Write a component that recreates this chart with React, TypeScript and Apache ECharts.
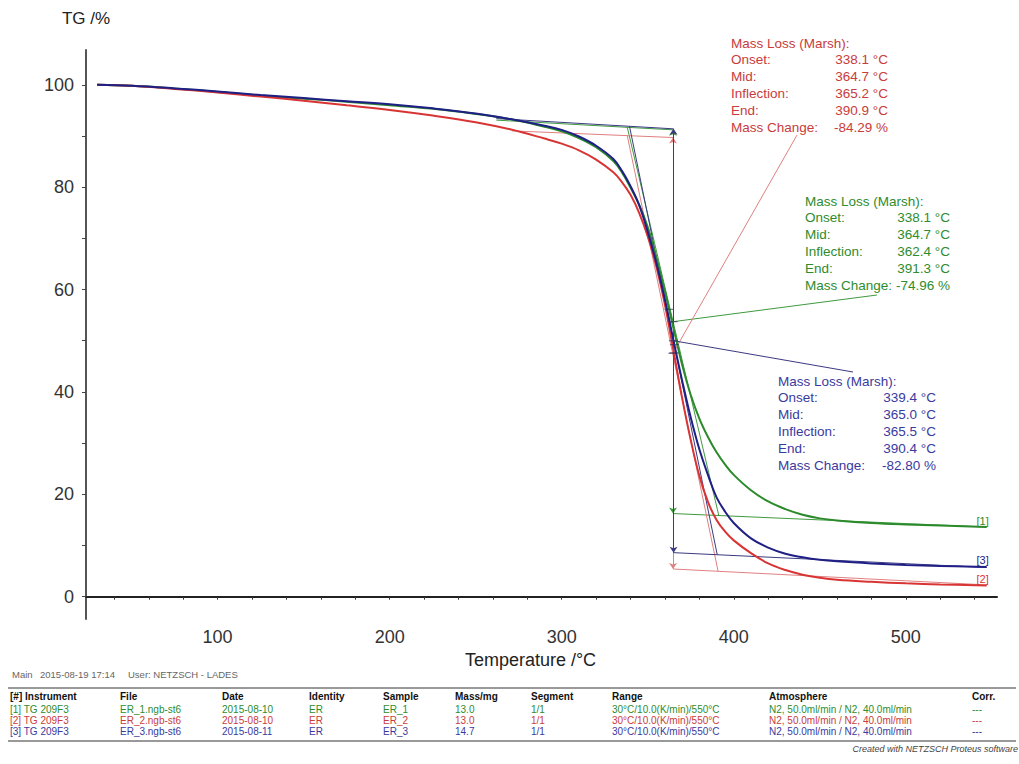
import React, { useEffect, useRef } from 'react';
import * as echarts from 'echarts';

const FONT = '"Liberation Sans", Arial, Helvetica, sans-serif';

// Temperature grid (°C) shared by the three TG runs
const temperature = [
  30, 50, 75, 100, 125, 150, 175, 200, 225, 250, 270, 290, 300, 310, 320, 330, 335, 340, 345, 350,
  355, 360, 365, 370, 375, 380, 385, 390, 395, 400, 410, 420, 430, 440, 450, 460, 480, 500, 520, 547,
];
// Residual mass in % for ER_1 [1], ER_2 [2] and ER_3 [3]
const tgER1 = [
  100, 99.8, 99.3, 98.6, 97.9, 97.3, 96.7, 96.0, 95.3, 94.3, 93.3, 91.8, 90.9, 89.6, 87.8, 85.1, 82.9, 79.9, 76.6, 72.2,
  66.3, 59.6, 52.4, 45.3, 39.4, 34.8, 31.2, 28.2, 25.8, 23.8, 20.8, 18.6, 17.1, 16.0, 15.3, 14.9, 14.4, 14.1, 13.9, 13.6,
];
const tgER2 = [
  100, 99.8, 99.2, 98.5, 97.7, 96.9, 96.0, 95.1, 94.0, 92.7, 91.3, 89.5, 88.5, 87.2, 85.4, 82.9, 81.0, 78.5, 75.0, 70.4,
  64.5, 57.0, 48.0, 38.8, 30.6, 23.6, 18.5, 15.0, 12.7, 11.0, 8.5, 6.5, 5.2, 4.3, 3.7, 3.3, 2.9, 2.6, 2.4, 2.2,
];
const tgER3 = [
  100, 99.8, 99.3, 98.7, 98.0, 97.4, 96.8, 96.2, 95.4, 94.4, 93.3, 92.0, 91.2, 89.9, 88.1, 85.5, 83.2, 80.2, 76.5, 71.3,
  65.2, 58.0, 50.0, 42.2, 35.0, 28.8, 23.8, 19.4, 16.6, 14.4, 11.4, 9.6, 8.4, 7.7, 7.2, 6.9, 6.5, 6.2, 6.0, 5.8,
];
const curves = [tgER1, tgER2, tgER3];

const curveTags = ['[1]', '[2]', '[3]'];
const curveColors = ['#2b8a2b', '#d93434', '#1f1f86'];
const constructionColors = ['#3f9a3f', '#e08080', '#3a3a82'];
const textColors = ['#2e8c2e', '#c83c3c', '#3a3a9e'];

// Marsh evaluation of the mass-loss step
const onsetT = [338.1, 338.1, 339.4];
const midT = [364.7, 364.7, 365.0];
const inflectionT = [362.4, 365.2, 365.5];
const endT = [391.3, 390.9, 390.4];
const massChange = [-74.96, -84.29, -82.8];

// Baseline before the step: start point and level at the mid temperature
const baselineStartT = [262, 271, 262];
const baselineStartTG = [93.1, 91.0, 93.4];
const baselineMidTG = [91.2, 89.7, 91.4];
// Baseline after the step, level reached at the last temperature
const finalT = 547;
const finalLineTG = [13.6, 2.3, 5.7];

// Axis ticks and labels
const xTickValues = [40, 60, 80, 100, 120, 140, 160, 180, 200, 220, 240, 260, 280, 300, 320, 340, 360, 380, 400, 420, 440, 460, 480, 500, 520, 540];
const xLabelValues = [100, 200, 300, 400, 500];
const yTickValues = [0, 10, 20, 30, 40, 50, 60, 70, 80, 90, 100];
const yLabelValues = [0, 20, 40, 60, 80, 100];

// Measurement table
const tableHeader = ['[#] Instrument', 'File', 'Date', 'Identity', 'Sample', 'Mass/mg', 'Segment', 'Range', 'Atmosphere', 'Corr.'];
const tableRows = [
  ['[1] TG 209F3', 'ER_1.ngb-st6', '2015-08-10', 'ER', 'ER_1', '13.0', '1/1', '30°C/10.0(K/min)/550°C', 'N2, 50.0ml/min / N2, 40.0ml/min', '---'],
  ['[2] TG 209F3', 'ER_2.ngb-st6', '2015-08-10', 'ER', 'ER_2', '13.0', '1/1', '30°C/10.0(K/min)/550°C', 'N2, 50.0ml/min / N2, 40.0ml/min', '---'],
  ['[3] TG 209F3', 'ER_3.ngb-st6', '2015-08-11', 'ER', 'ER_3', '14.7', '1/1', '30°C/10.0(K/min)/550°C', 'N2, 50.0ml/min / N2, 40.0ml/min', '---'],
];
const tableColumnX = [10, 120, 222, 309, 383, 455, 531, 612, 769, 972];
const headerParts = ['Main', '2015-08-19 17:14', 'User: NETZSCH - LADES'];
const headerPartX = [12, 40, 128];

// Result boxes: text placement in pixels, order matches the curves
const boxLeft = [805, 731, 778];
const boxValueRight = [950, 888, 936];
const boxTop = [201, 43, 381];
const leaderAnchor = [[877, 295], [797, 135], [853, 372]];

function interp(xs: number[], ys: number[], x: number): number {
  for (let k = 0; k < xs.length - 1; k++) {
    if (x >= xs[k] && x <= xs[k + 1]) {
      const t = (x - xs[k]) / (xs[k + 1] - xs[k]);
      return ys[k] + t * (ys[k + 1] - ys[k]);
    }
  }
  return ys[ys.length - 1];
}

function baselineAt(i: number, t: number): number {
  const s = (baselineMidTG[i] - baselineStartTG[i]) / (midT[i] - baselineStartT[i]);
  return baselineMidTG[i] + s * (t - midT[i]);
}

function endLevelAtMid(i: number): number {
  return baselineMidTG[i] + massChange[i];
}

function finalLineAt(i: number, t: number): number {
  const y0 = endLevelAtMid(i);
  const s = (finalLineTG[i] - y0) / (finalT - midT[i]);
  return y0 + s * (t - midT[i]);
}

function midLevel(i: number): number {
  return baselineMidTG[i] + massChange[i] / 2;
}

export default function App() {
  const ref = useRef<HTMLDivElement>(null);

  useEffect(() => {
    if (!ref.current) return;
    const chart = echarts.init(ref.current, undefined, { renderer: 'svg' });

    const series: any[] = [];

    // construction lines of the Marsh evaluation
    [0, 1, 2].forEach((i) => {
      const segs = [
        [[baselineStartT[i], baselineStartTG[i]], [midT[i], baselineMidTG[i]]],
        [[midT[i], endLevelAtMid(i)], [finalT, finalLineTG[i]]],
        [[onsetT[i], baselineAt(i, onsetT[i])], [endT[i], finalLineAt(i, endT[i])]],
      ];
      series.push({
        type: 'lines',
        coordinateSystem: 'cartesian2d',
        silent: true,
        z: 2,
        lineStyle: { color: constructionColors[i], width: 1, opacity: 1 },
        data: segs.map((c) => ({ coords: c })),
      });
      series.push({
        type: 'lines',
        coordinateSystem: 'cartesian2d',
        silent: true,
        z: 2,
        symbol: ['arrow', 'arrow'],
        symbolSize: 6,
        lineStyle: { color: constructionColors[i], width: 1, opacity: 1 },
        data: [{ coords: [[midT[i], baselineMidTG[i]], [midT[i], endLevelAtMid(i)]] }],
      });
    });

    // TG curves
    curves.forEach((vals, i) => {
      series.push({
        type: 'line',
        name: curveTags[i],
        z: 4,
        data: temperature.map((t, k) => [t, vals[k]]),
        showSymbol: false,
        smooth: 0.4,
        lineStyle: { color: curveColors[i], width: 2 },
        itemStyle: { color: curveColors[i] },
        markPoint: {
          symbol: 'rect',
          symbolSize: 0,
          silent: true,
          data: [{ coord: [temperature[temperature.length - 1], vals[vals.length - 1]] }],
          label: {
            show: true,
            formatter: curveTags[i],
            position: 'top',
            distance: 1,
            offset: [-4, 0],
            color: curveColors[i],
            fontSize: 11,
            fontFamily: FONT,
          },
        },
      });
    });

    // inflection and mid-point marks
    series.push({
      type: 'scatter',
      silent: true,
      z: 5,
      symbol: 'rect',
      symbolSize: [9, 1],
      itemStyle: { color: '#303060' },
      data: [0, 1, 2].flatMap((i) => [
        [inflectionT[i], interp(temperature, curves[i], inflectionT[i])],
        [midT[i], midLevel(i)],
      ]),
    });

    const option: any = {
      animation: false,
      backgroundColor: '#ffffff',
      grid: { left: 86, right: 22, top: 50, bottom: 145 },
      xAxis: {
        type: 'value',
        min: 23.5,
        max: 553,
        name: 'Temperature /°C',
        nameLocation: 'middle',
        nameGap: 31,
        nameTextStyle: { fontSize: 18, color: '#222', fontFamily: FONT, padding: [0, 22, 0, 0] },
        axisLine: { show: true, lineStyle: { color: '#222', width: 2 } },
        axisTick: { show: true, length: 3, customValues: xTickValues, lineStyle: { color: '#333' } },
        axisLabel: { customValues: xLabelValues, fontSize: 18, color: '#333', margin: 9, fontFamily: FONT },
        splitLine: { show: false },
      },
      yAxis: {
        type: 'value',
        min: -4.36,
        max: 106.8,
        name: 'TG /%',
        nameLocation: 'end',
        nameGap: 23,
        nameTextStyle: { fontSize: 17, color: '#222', fontFamily: FONT, align: 'center' },
        axisLine: { show: true, lineStyle: { color: '#555', width: 2 } },
        axisTick: { show: true, length: 4, customValues: yTickValues, lineStyle: { color: '#444' } },
        axisLabel: { customValues: yLabelValues, fontSize: 18, color: '#333', margin: 12, fontFamily: FONT },
        splitLine: { show: false },
      },
      series,
    };

    chart.setOption(option);

    const graphics: any[] = [];
    const txt = (x: number, y: number, text: string, fill: string, font: string, align = 'left') => ({
      type: 'text',
      silent: true,
      x,
      y,
      z: 10,
      style: { text, fill, font, textAlign: align, textVerticalAlign: 'middle' },
    });

    // result boxes and their leader lines
    const rowGap = 16.8;
    [0, 1, 2].forEach((i) => {
      const rows: [string, string][] = [
        ['Mass Loss (Marsh):', ''],
        ['Onset:', `${onsetT[i].toFixed(1)} °C`],
        ['Mid:', `${midT[i].toFixed(1)} °C`],
        ['Inflection:', `${inflectionT[i].toFixed(1)} °C`],
        ['End:', `${endT[i].toFixed(1)} °C`],
        ['Mass Change:', `${massChange[i].toFixed(2)} %`],
      ];
      rows.forEach(([label, value], r) => {
        const y = boxTop[i] + r * rowGap;
        graphics.push(txt(boxLeft[i], y, label, textColors[i], `13.5px ${FONT}`));
        if (value) graphics.push(txt(boxValueRight[i], y, value, textColors[i], `13.5px ${FONT}`, 'right'));
      });
      const p = chart.convertToPixel({ xAxisIndex: 0, yAxisIndex: 0 }, [midT[i], midLevel(i)]) as number[];
      graphics.push({
        type: 'line',
        silent: true,
        z: 3,
        shape: { x1: p[0], y1: p[1], x2: leaderAnchor[i][0], y2: leaderAnchor[i][1] },
        style: { stroke: constructionColors[i], lineWidth: 1 },
      });
    });

    // measurement info and table
    headerParts.forEach((s, k) => graphics.push(txt(headerPartX[k], 674, s, '#666', `9.5px ${FONT}`)));
    graphics.push({ type: 'line', silent: true, shape: { x1: 8, y1: 688, x2: 1016, y2: 688 }, style: { stroke: '#999', lineWidth: 2 } });
    graphics.push({ type: 'line', silent: true, shape: { x1: 8, y1: 741, x2: 1016, y2: 741 }, style: { stroke: '#999', lineWidth: 2 } });
    tableHeader.forEach((h, c) => graphics.push(txt(tableColumnX[c], 696, h, '#111', `bold 10px ${FONT}`)));
    tableRows.forEach((row, r) => {
      row.forEach((cell, c) => graphics.push(txt(tableColumnX[c], 709 + r * 11, cell, textColors[r], `10px ${FONT}`)));
    });
    graphics.push(txt(1018, 749, 'Created with NETZSCH Proteus software', '#444', `italic 9px ${FONT}`, 'right'));

    chart.setOption({ graphic: graphics });

    return () => chart.dispose();
  }, []);

  return (
    <div
      ref={ref}
      style={{ position: 'fixed', left: 0, top: 0, width: 1019, height: 764, background: '#fff' }}
    />
  );
}
